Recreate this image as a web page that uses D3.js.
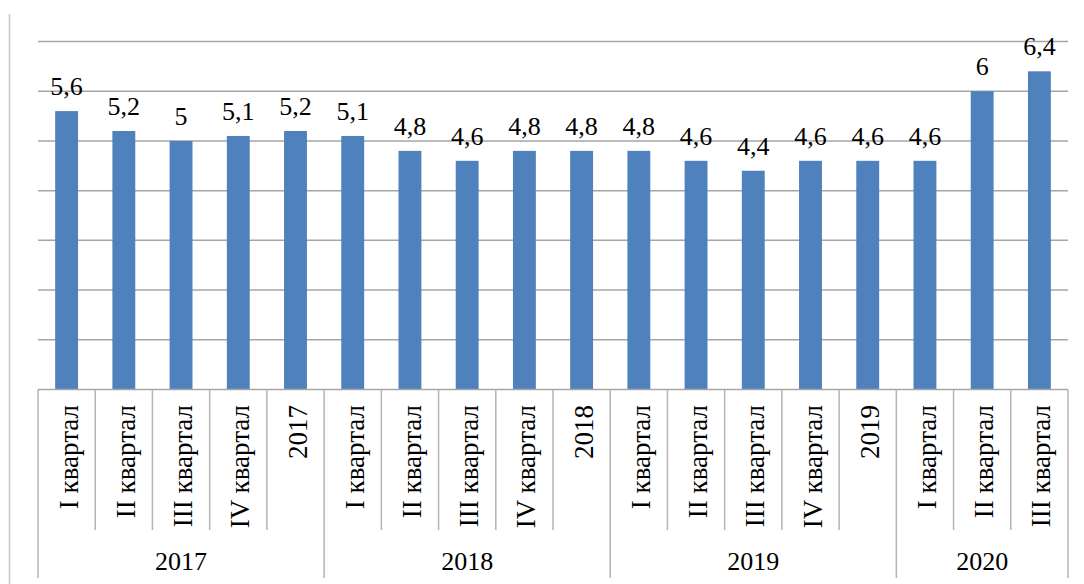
<!DOCTYPE html>
<html>
<head>
<meta charset="utf-8">
<script src="https://cdn.jsdelivr.net/npm/d3@7"></script>
<style>
  body { margin: 0; background: #fff; }
</style>
</head>
<body>
<svg id="chart"></svg>
<script>
const width = 1084;
const height = 584;

// categories (inner level) and their years (outer level)
const labels = ['I квартал', 'II квартал', 'III квартал', 'IV квартал', '2017',
    'I квартал', 'II квартал', 'III квартал', 'IV квартал', '2018',
    'I квартал', 'II квартал', 'III квартал', 'IV квартал', '2019',
    'I квартал', 'II квартал', 'III квартал'];
const groups = ['2017', '2018', '2019', '2020'];
const groupSizes = [5, 5, 5, 3];
const values = [5.6, 5.2, 5, 5.1, 5.2, 5.1, 4.8, 4.6, 4.8, 4.8, 4.8, 4.6, 4.4, 4.6, 4.6, 4.6, 6, 6.4];
const yTicks = [0, 1, 2, 3, 4, 5, 6, 7];

const plotLeft = 38, plotRight = 1068, plotTop = 41.5, plotBottom = 389.5;
const serif = '"Liberation Serif"';

const svg = d3.select('#chart')
    .attr('width', width)
    .attr('height', height);

const idx = d3.range(values.length);
const x = d3.scaleBand().domain(idx).range([plotLeft, plotRight]).paddingInner(0).paddingOuter(0);
const y = d3.scaleLinear().domain([0, 7]).range([plotBottom, plotTop]);
const barW = x.bandwidth() * 0.4;

// chart area border (only left edge visible)
svg.append('line')
    .attr('x1', 9.5).attr('x2', 9.5).attr('y1', 14).attr('y2', height)
    .attr('stroke', '#c8c8c8').attr('stroke-width', 1.5);

// gridlines
svg.append('g').selectAll('line').data(yTicks.filter(d => d > 0)).enter().append('line')
    .attr('x1', plotLeft).attr('x2', plotRight)
    .attr('y1', d => y(d)).attr('y2', d => y(d))
    .attr('stroke', '#a6a6a6').attr('stroke-width', 1.5);

// bars
svg.append('g').selectAll('rect').data(values).enter().append('rect')
    .attr('x', (d, i) => x(i) + (x.bandwidth() - barW) / 2)
    .attr('width', barW)
    .attr('y', d => y(d))
    .attr('height', d => y(0) - y(d))
    .attr('fill', '#4f81bd');

// data labels
svg.append('g').selectAll('text').data(values).enter().append('text')
    .attr('x', (d, i) => x(i) + x.bandwidth() / 2)
    .attr('y', d => y(d) - 16)
    .attr('text-anchor', 'middle')
    .style('font-family', serif)
    .style('font-size', '26px')
    .text(d => String(d).replace('.', ','));

// category axis
svg.append('line')
    .attr('x1', plotLeft).attr('x2', plotRight).attr('y1', plotBottom).attr('y2', plotBottom)
    .attr('stroke', '#a6a6a6').attr('stroke-width', 1.5);

const bounds = [0];
groupSizes.forEach(s => bounds.push(bounds[bounds.length - 1] + s));

const sepPos = d3.range(values.length + 1);
svg.append('g').selectAll('line').data(sepPos).enter().append('line')
    .attr('x1', i => i < values.length ? x(i) : plotRight)
    .attr('x2', i => i < values.length ? x(i) : plotRight)
    .attr('y1', plotBottom)
    .attr('y2', i => bounds.includes(i) ? 578 : 530)
    .attr('stroke', '#b4b4b4').attr('stroke-width', 1.5);

svg.append('g').selectAll('text').data(labels).enter().append('text')
    .attr('transform', (d, i) => `translate(${x(i) + x.bandwidth() / 2 + 11}, 405) rotate(-90)`)
    .attr('text-anchor', 'end')
    .style('font-family', serif)
    .style('font-size', '27px')
    .text(d => d);

svg.append('g').selectAll('text').data(groups).enter().append('text')
    .attr('x', (d, i) => {
        const a = x(bounds[i]);
        const b = bounds[i + 1] < values.length ? x(bounds[i + 1]) : plotRight;
        return (a + b) / 2;
    })
    .attr('y', 570)
    .attr('text-anchor', 'middle')
    .style('font-family', serif)
    .style('font-size', '26px')
    .text(d => d);
</script>
</body>
</html>
